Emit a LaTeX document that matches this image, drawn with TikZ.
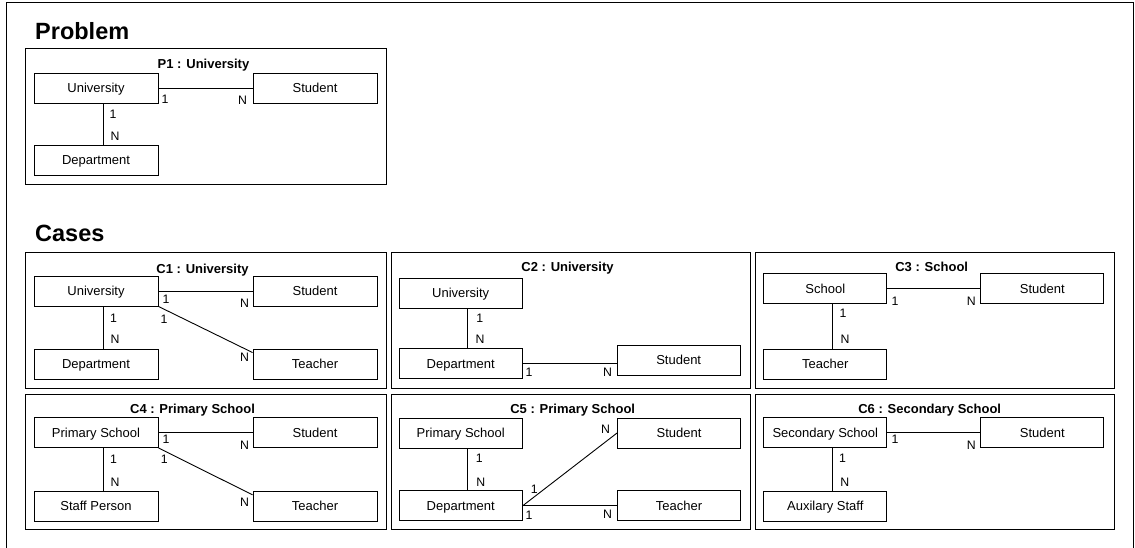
\documentclass[tikz,border=0pt]{standalone}
\usepackage{fontspec}
\setmainfont{Liberation Sans}
\begin{document}
\begin{tikzpicture}[x=1pt,y=-1pt,
  ent/.style={draw, line width=0.9pt, minimum width=124pt, minimum height=30pt, inner sep=0pt,
    font=\fontsize{13}{15}\selectfont, text height=9.3pt, text depth=0pt},
  entb/.style={ent, minimum width=123pt},
  lbl/.style={inner sep=0pt, font=\fontsize{12.3}{14}\selectfont, text height=8.8pt, text depth=0pt},
  ttl/.style={inner sep=0pt, font=\bfseries\fontsize{13}{15}\selectfont, text height=9.3pt, text depth=0pt},
  head/.style={inner sep=0pt, anchor=base west, font=\bfseries\fontsize{23.5}{27}\selectfont},
  panel/.style={draw, line width=0.9pt},
  conn/.style={draw, line width=0.9pt}]
\useasboundingbox (0,0) rectangle (1135,548);
\clip (0,0) rectangle (1135,548);
% outer frame
\draw[line width=0.9pt] (6,560) -- (6,2.5) -- (1133,2.5) -- (1133,560);

% headings
\node[head] (hprob) at (35,39.3) {Problem};
\node[head] (hcase) at (35,241.7) {Cases};

% panels
\path[panel] (25.5,48) rectangle (386,184);
\path[panel] (25.5,252.5) rectangle (386,388.5);
\path[panel] (391,252.5) rectangle (750,388.5);
\path[panel] (755.7,252.5) rectangle (1114,388.5);
\path[panel] (25.5,394.3) rectangle (386,529);
\path[panel] (391,394.3) rectangle (750,529);
\path[panel] (755.7,394.3) rectangle (1114,529);

% titles
\node[ttl] (tp1) at (203.5,64) {P1 : University};
\node[ttl] (tc1) at (202.5,268.5) {C1 : University};
\node[ttl] (tc2) at (567.5,266.7) {C2 : University};
\node[ttl] (tc3) at (931.7,266.7) {C3 : School};
\node[ttl] (tc4) at (192.5,409) {C4 : Primary School};
\node[ttl] (tc5) at (572.7,409) {C5 : Primary School};
\node[ttl] (tc6) at (929.7,409) {C6 : Secondary School};

% ---- P1
\node[ent] (p1u) at (96,88) {University};
\node[ent] (p1s) at (315,88) {Student};
\node[ent] (p1d) at (96,160) {Department};
\path[conn] (p1u.east) -- (p1s.west);
\path[conn] ([xshift=7]p1u.south) -- ([xshift=7]p1u.south |- p1d.north);
\node[lbl] (p1a) at (165,99) {1};
\node[lbl] (p1b) at (242.5,100.5) {N};
\node[lbl] (p1c) at (113,114) {1};
\node[lbl] (p1e) at (115,136.3) {N};

% ---- C1
\node[ent] (c1u) at (96,291) {University};
\node[ent] (c1s) at (315,291) {Student};
\node[ent] (c1d) at (96,364) {Department};
\node[ent] (c1t) at (315,364) {Teacher};
\path[conn] (c1u.east) -- (c1s.west);
\path[conn] ([xshift=7]c1u.south) -- ([xshift=7]c1u.south |- c1d.north);
\path[conn] (c1u.south east) -- ([yshift=-4]c1t.north west);
\node[lbl] (c1a) at (166,299) {1};
\node[lbl] (c1b) at (244.5,303.3) {N};
\node[lbl] (c1c) at (164,319) {1};
\node[lbl] (c1e) at (244.5,357) {N};
\node[lbl] (c1f) at (113.5,318) {1};
\node[lbl] (c1g) at (115,339) {N};

% ---- C2
\node[entb] (c2u) at (460.7,293) {University};
\node[entb] (c2d) at (460.7,363.7) {Department};
\node[entb] (c2s) at (678.7,360.3) {Student};
\path[conn] ([xshift=7]c2u.south) -- ([xshift=7]c2u.south |- c2d.north);
\path[conn] (c2d.east) -- (c2d.east -| c2s.west);
\node[lbl] (c2a) at (479.7,318.2) {1};
\node[lbl] (c2b) at (480,339) {N};
\node[lbl] (c2c) at (529,372.5) {1};
\node[lbl] (c2e) at (607.5,372.5) {N};

% ---- C3
\node[entb] (c3sc) at (825.3,288.7) {School};
\node[entb] (c3s) at (1042.3,288.7) {Student};
\node[entb] (c3t) at (825.3,364.2) {Teacher};
\path[conn] (c3sc.east) -- (c3s.west);
\path[conn] ([xshift=7]c3sc.south) -- ([xshift=7]c3sc.south |- c3t.north);
\node[lbl] (c3a) at (895,300.8) {1};
\node[lbl] (c3b) at (971.3,300.8) {N};
\node[lbl] (c3c) at (843,313.3) {1};
\node[lbl] (c3e) at (845,339) {N};

% ---- C4
\node[ent] (c4p) at (96,432.5) {Primary School};
\node[ent] (c4s) at (315,432.5) {Student};
\node[ent] (c4f) at (96,506.3) {Staff Person};
\node[ent] (c4t) at (315,506.3) {Teacher};
\path[conn] (c4p.east) -- (c4s.west);
\path[conn] ([xshift=7]c4p.south) -- ([xshift=7]c4p.south |- c4f.north);
\path[conn] (c4p.south east) -- ([yshift=-4]c4t.north west);
\node[lbl] (c4a) at (166,438.8) {1};
\node[lbl] (c4b) at (244.5,445) {N};
\node[lbl] (c4c) at (164.2,459.2) {1};
\node[lbl] (c4e) at (244.5,502) {N};
\node[lbl] (c4f1) at (113.5,459) {1};
\node[lbl] (c4g) at (115,481.7) {N};

% ---- C5
\node[entb] (c5p) at (460.7,433) {Primary School};
\node[entb] (c5s) at (679,433) {Student};
\node[entb] (c5d) at (460.7,505.8) {Department};
\node[entb] (c5t) at (679,505.8) {Teacher};
\path[conn] ([xshift=7]c5p.south) -- ([xshift=7]c5p.south |- c5d.north);
\path[conn] (c5d.east) -- (c5t.west);
\path[conn] (c5d.east) -- (c5s.west);
\node[lbl] (c5a) at (479.2,458.3) {1};
\node[lbl] (c5b) at (480.8,481.7) {N};
\node[lbl] (c5c) at (529,515) {1};
\node[lbl] (c5e) at (607.5,514.5) {N};
\node[lbl] (c5f) at (534.2,488.7) {1};
\node[lbl] (c5g) at (605.5,429.2) {N};

% ---- C6
\node[entb] (c6p) at (825.3,432.7) {Secondary School};
\node[entb] (c6s) at (1042.3,432.7) {Student};
\node[entb] (c6a) at (825.3,506.3) {Auxilary Staff};
\path[conn] (c6p.east) -- (c6s.west);
\path[conn] ([xshift=7]c6p.south) -- ([xshift=7]c6p.south |- c6a.north);
\node[lbl] (c6b) at (895,439.2) {1};
\node[lbl] (c6c) at (971.3,445) {N};
\node[lbl] (c6e) at (842.5,458.3) {1};
\node[lbl] (c6f) at (844.7,481.7) {N};
\end{tikzpicture}
\end{document}
